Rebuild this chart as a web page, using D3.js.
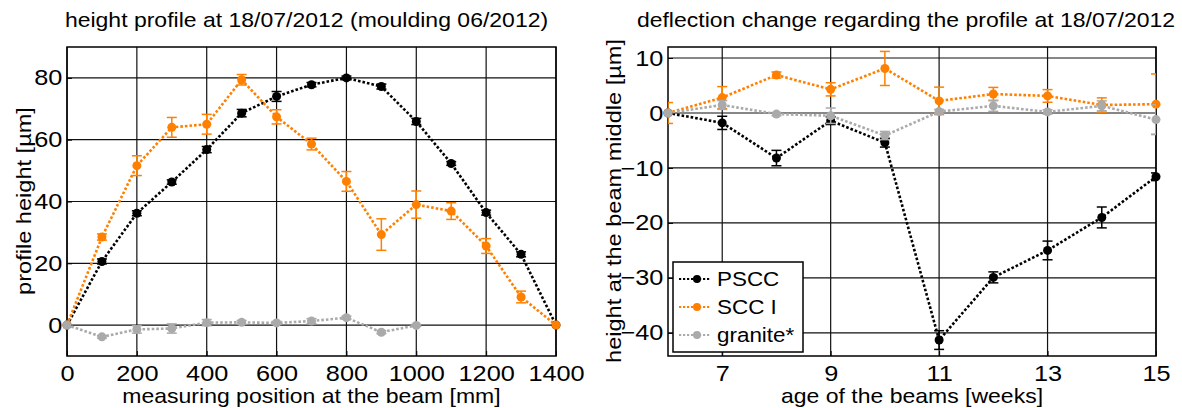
<!DOCTYPE html>
<html>
<head>
<meta charset="utf-8">
<script src="https://cdn.jsdelivr.net/npm/d3@7"></script>
<style>
  body { margin: 0; background: #fff; }
  svg { font-family: "Liberation Sans", Arial, sans-serif; }
</style>
</head>
<body>
<div class="chart"></div>
<script>
// left chart: height profile
const positions = [0, 100, 200, 300, 400, 500, 600, 700, 800, 900, 1000, 1100, 1200, 1300, 1400];
const psccProfile = [0, 20.6, 36.2, 46.3, 56.8, 68.6, 74.0, 77.8, 80.0, 77.2, 65.9, 52.3, 36.4, 22.9, 0];
const psccProfileErr = [0, 0.8, 0.8, 0.7, 1.0, 1.2, 1.6, 0.7, 0.6, 0.8, 1.0, 0.6, 0.8, 0.8, 0];
const sccProfile = [0, 28.5, 51.6, 64.0, 65.0, 79.4, 67.4, 58.6, 46.5, 29.3, 39.0, 36.9, 25.6, 9.1, 0];
const sccProfileErr = [0, 1.0, 3.2, 3.2, 3.2, 1.7, 2.3, 1.9, 3.2, 5.1, 4.4, 2.7, 2.4, 1.9, 0];
const granitePositions = [0, 100, 200, 300, 400, 500, 600, 700, 800, 900, 1000];
const graniteProfile = [0, -3.8, -1.4, -1.1, 0.8, 0.9, 0.7, 1.3, 2.4, -2.3, -0.1];
const graniteProfileErr = [0, 0.4, 1.2, 1.5, 1.0, 0.6, 0.5, 0.8, 0.5, 0.5, 0.3];
const profileTicksX = [0, 200, 400, 600, 800, 1000, 1200, 1400];
const profileTicksY = [0, 20, 40, 60, 80];

// right chart: deflection change
const weeks = [6, 7, 8, 9, 10, 11, 12, 13, 14, 15];
const psccChange = [0, -1.8, -8.2, -1.4, -5.4, -41.3, -29.9, -25.0, -19.0, -11.6];
const psccChangeErr = [0, 1.2, 1.4, 0.7, 0.8, 1.7, 1.0, 1.7, 1.9, 0.7];
const sccChange = [0, 2.8, 6.9, 4.3, 8.1, 2.2, 3.45, 3.1, 1.45, 1.6];
const sccChangeErr = [1.9, 2.0, 0.55, 1.2, 3.1, 2.5, 1.2, 1.15, 1.3, 5.5];
const graniteChange = [0, 1.45, -0.2, -0.5, -4.1, 0.25, 1.3, 0.2, 1.3, -1.2];
const graniteChangeErr = [0, 0.8, 0.3, 1.4, 0.75, 0.4, 1.0, 0.4, 0.9, 2.7];
const changeTicksX = [7, 9, 11, 13, 15];
const changeTicksY = [-40, -30, -20, -10, 0, 10];

const seriesNames = ['PSCC', 'SCC I', 'granite*'];
const colors = ['#000000', '#ff8000', '#aaaaaa'];

const width = 1182;
const height = 408;
const stretch = 'scale(1.15,1)'; // the reference text is set wide

const svg = d3.select('.chart')
  .append('svg')
  .attr('width', width)
  .attr('height', height);

const drawPanel = (cfg) => {
  const x = d3.scaleLinear().domain(cfg.xDomain).range(cfg.xRange);
  const y = d3.scaleLinear().domain(cfg.yDomain).range([356, 47]);
  const g = svg.append('g');

  // grid
  g.selectAll('.vgrid')
    .data(cfg.xTicks)
    .enter()
    .append('line')
    .attr('x1', (d) => x(d)).attr('x2', (d) => x(d))
    .attr('y1', y.range()[0]).attr('y2', y.range()[1])
    .attr('stroke', '#111').attr('stroke-width', 1.2);
  g.selectAll('.hgrid')
    .data(cfg.yTicks)
    .enter()
    .append('line')
    .attr('x1', x.range()[0]).attr('x2', x.range()[1])
    .attr('y1', (d) => y(d)).attr('y2', (d) => y(d))
    .attr('stroke', '#111').attr('stroke-width', 1.2);

  // axes
  const xAxis = g.append('g')
    .attr('transform', `translate(0,${y.range()[0]})`)
    .call(d3.axisBottom(x).tickValues(cfg.xTicks).tickSizeInner(-5).tickSizeOuter(0).tickPadding(9).tickFormat(d3.format('d')));
  const yAxis = g.append('g')
    .attr('transform', `translate(${x.range()[0]},0)`)
    .call(d3.axisLeft(y).tickValues(cfg.yTicks).tickSizeInner(-5).tickSizeOuter(0).tickPadding(4).tickFormat(d3.format('d')));
  [xAxis, yAxis].forEach((a) => {
    a.select('.domain').remove();
    a.selectAll('text').attr('font-size', '22px').attr('fill', '#000')
      .attr('font-family', '"Liberation Sans", Arial, sans-serif')
      .attr('transform', stretch);
    a.selectAll('line').attr('stroke', '#000');
  });

  // frame
  g.append('rect')
    .attr('x', x.range()[0]).attr('y', y.range()[1])
    .attr('width', x.range()[1] - x.range()[0])
    .attr('height', y.range()[0] - y.range()[1])
    .attr('fill', 'none').attr('stroke', '#000').attr('stroke-width', 1.5);

  const clipId = `clip_${cfg.id}`;
  svg.append('clipPath').attr('id', clipId)
    .append('rect')
    .attr('x', x.range()[0]).attr('y', y.range()[1])
    .attr('width', x.range()[1] - x.range()[0])
    .attr('height', y.range()[0] - y.range()[1]);

  const line = d3.line().x((d) => x(d.x)).y((d) => y(d.y));

  cfg.series.forEach((s, i) => {
    const pts = s.xs.map((v, j) => ({ x: v, y: s.ys[j], e: s.err[j] }));
    const sg = g.append('g');
    const eg = sg.append('g').attr('stroke', colors[i]).attr('stroke-width', 1.5);
    if (cfg.clip) eg.attr('clip-path', `url(#${clipId})`);
    pts.filter((d) => d.e > 0).forEach((d) => {
      eg.append('line')
        .attr('x1', x(d.x)).attr('x2', x(d.x))
        .attr('y1', y(d.y - d.e)).attr('y2', y(d.y + d.e));
      [d.y - d.e, d.y + d.e].forEach((v) => {
        eg.append('line')
          .attr('x1', x(d.x) - 5).attr('x2', x(d.x) + 5)
          .attr('y1', y(v)).attr('y2', y(v));
      });
    });
    sg.append('path')
      .datum(pts)
      .attr('d', line)
      .attr('fill', 'none')
      .attr('stroke', colors[i])
      .attr('stroke-width', 2.6)
      .attr('stroke-dasharray', '2.6 2');
    sg.selectAll('circle')
      .data(pts)
      .enter()
      .append('circle')
      .attr('cx', (d) => x(d.x))
      .attr('cy', (d) => y(d.y))
      .attr('r', 4.5)
      .attr('fill', colors[i]);
  });

  // titles
  const cx = (x.range()[0] + x.range()[1]) / 2;
  svg.append('text')
    .attr('transform', `translate(${cx + cfg.titleShift},27) ${stretch}`)
    .attr('text-anchor', 'middle')
    .attr('font-size', '20px')
    .text(cfg.title);
  svg.append('text')
    .attr('transform', `translate(${cx},403) ${stretch}`)
    .attr('text-anchor', 'middle')
    .attr('font-size', '20px')
    .text(cfg.xLabel);
  svg.append('text')
    .attr('transform', `translate(${cfg.yLabelX},201) rotate(-90) ${stretch}`)
    .attr('text-anchor', 'middle')
    .attr('font-size', '20.5px')
    .text(cfg.yLabel);

  return { x, y, g };
};

drawPanel({
  id: 'profile',
  xDomain: [0, 1400], xRange: [67, 556],
  yDomain: [-10, 90],
  xTicks: profileTicksX, yTicks: profileTicksY,
  clip: false,
  title: 'height profile at 18/07/2012 (moulding 06/2012)',
  titleShift: -5,
  xLabel: 'measuring position at the beam [mm]',
  yLabel: 'profile height [µm]',
  yLabelX: 31,
  series: [
    { xs: positions, ys: psccProfile, err: psccProfileErr },
    { xs: positions, ys: sccProfile, err: sccProfileErr },
    { xs: granitePositions, ys: graniteProfile, err: graniteProfileErr }
  ]
});

drawPanel({
  id: 'change',
  xDomain: [6, 15], xRange: [668, 1156],
  yDomain: [-44.2, 12],
  xTicks: changeTicksX, yTicks: changeTicksY,
  clip: true,
  title: 'deflection change regarding the profile at 18/07/2012',
  titleShift: -6,
  xLabel: 'age of the beams [weeks]',
  yLabel: 'height at the beam middle [µm]',
  yLabelX: 621,
  series: [
    { xs: weeks, ys: psccChange, err: psccChangeErr },
    { xs: weeks, ys: sccChange, err: sccChangeErr },
    { xs: weeks, ys: graniteChange, err: graniteChangeErr }
  ]
});

// legend
const legend = svg.append('g').attr('transform', 'translate(673,262)');
legend.append('rect')
  .attr('width', 130).attr('height', 90)
  .attr('fill', '#fff').attr('stroke', '#000').attr('stroke-width', 1.5);
seriesNames.forEach((name, i) => {
  const yy = 17 + i * 28;
  legend.append('line')
    .attr('x1', 6).attr('x2', 38).attr('y1', yy).attr('y2', yy)
    .attr('stroke', colors[i]).attr('stroke-width', 2.2).attr('stroke-dasharray', '2.2 1.8');
  legend.append('circle').attr('cx', 24).attr('cy', yy).attr('r', 4).attr('fill', colors[i]);
  legend.append('text')
    .attr('transform', `translate(44,${yy + 7}) ${stretch}`)
    .attr('font-size', '19.5px')
    .text(name);
});
</script>
</body>
</html>
